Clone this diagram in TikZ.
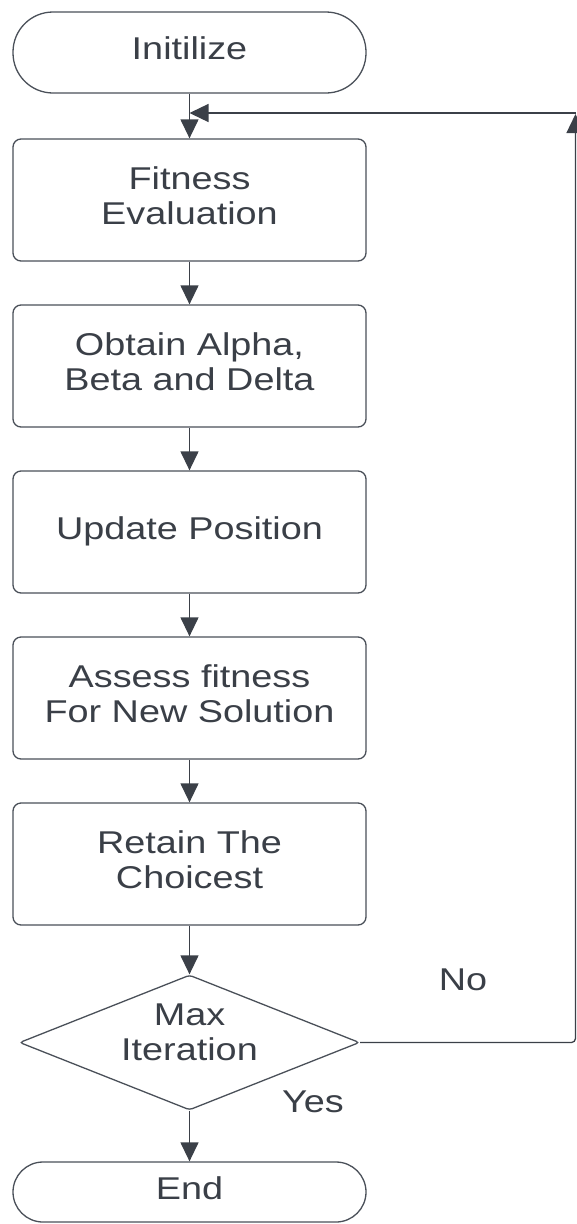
\documentclass[tikz,border=0pt]{standalone}
\usepackage{fontspec}
\setmainfont{Liberation Sans}
\usepackage{graphicx}
\usetikzlibrary{arrows.meta,shapes.geometric}
\definecolor{edge}{HTML}{4A5059}
\definecolor{ink}{HTML}{3A3F47}
\definecolor{tip}{HTML}{3B4048}
% labels are set slightly wide, as in the original drawing
\newcommand{\widetext}[1]{\scalebox{1.2}[1]{\begin{tabular}{@{}c@{}}#1\end{tabular}}}
\begin{document}
\begin{tikzpicture}[x=1pt,y=-1pt,
  every node/.style={text=ink,font=\fontsize{31.5}{35}\selectfont},
  terminal/.style={draw=edge,line width=1.3pt,fill=white,rounded corners=40pt,
    minimum width=353pt,minimum height=81pt,inner sep=0pt},
  stepbox/.style={draw=edge,line width=1.3pt,fill=white,rounded corners=8pt,
    minimum width=353pt,minimum height=122pt,inner sep=0pt},
  decision/.style={diamond,draw=edge,line width=1.3pt,fill=white,rounded corners=3pt,
    minimum width=340pt,minimum height=135pt,inner sep=0pt},
  flow/.style={draw=tip,line width=1.3pt,-{Triangle[width=18pt,length=19pt]}},
  tag/.style={inner sep=0pt}]
\useasboundingbox (0,0) rectangle (576,1224);

\node[terminal] (init) at (189.5,52.5) {\widetext{Initilize}};
\node[stepbox] (fit) at (189.5,200) {\widetext{Fitness\\Evaluation}};
\node[stepbox] (obt) at (189.5,366) {\widetext{Obtain Alpha,\\Beta and Delta}};
\node[stepbox] (upd) at (189.5,532) {\widetext{Update Position}};
\node[stepbox] (ass) at (189.5,698) {\widetext{Assess fitness\\For New Solution}};
\node[stepbox] (ret) at (189.5,864) {\widetext{Retain The\\Choicest}};
\node[decision] (dec) at (189.5,1042.5) {};
\node[tag] (declabel) at (189.5,1036) {\widetext{Max\\Iteration}};
\node[terminal,minimum height=60pt,rounded corners=30pt] (fin) at (189.5,1192) {\widetext{End}};

\node[tag] (no) at (463,983) {\widetext{No}};
\node[tag] (yes) at (313,1105) {\widetext{Yes}};

% main sequence
\draw[flow] (init) -- (fit);
\draw[flow] (fit) -- (obt);
\draw[flow] (obt) -- (upd);
\draw[flow] (upd) -- (ass);
\draw[flow] (ass) -- (ret);
\draw[flow] (ret) -- (dec);
\draw[flow] (dec) -- (fin);

% loop back when the iteration limit is not reached
\coordinate (corner) at (575.5,1042.5);
\coordinate (loopend) at (575.5,114);
\coordinate (looptop) at (576,113);
\draw[flow,rounded corners=4pt] (dec.east) -- (corner) -- (loopend);
\draw[flow] (looptop) -- (init.south |- looptop);
\end{tikzpicture}
\end{document}
